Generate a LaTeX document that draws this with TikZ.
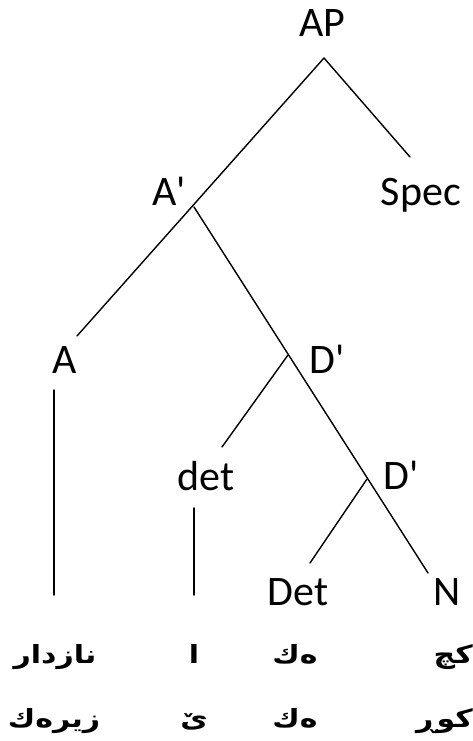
\documentclass[tikz,border=0pt]{standalone}
\usepackage{fontspec}
\setmainfont{Carlito}
\newfontfamily\arabicfont[Script=Arabic, FakeStretch=1.2]{DejaVu Sans}
\TeXXeTstate=1
\usetikzlibrary{positioning}

\begin{document}
\begin{tikzpicture}[x=1pt, y=-1pt,
    every node/.style={inner sep=0pt, anchor=base},
    cat/.style={font=\fontsize{42}{50}\selectfont},
    word/.style={font=\fontsize{25}{30}\selectfont\arabicfont\bfseries},
    branch/.style={line width=1.4pt, line cap=round}
]
\useasboundingbox (0,0) rectangle (473,741);

% Category labels of the tree
\node[cat] (AP)   at (322,37)  {AP};
\node[cat] (Abar) at (169,205) {A\textquotesingle};
\node[cat] (Spec) at (421,205) {Spec};
\node[cat] (A)    at (65,373)  {A};
\node[cat] (Dbar) at (327,373) {D\textquotesingle};
\node[cat] (det)  at (206,490) {det};
\node[cat] (Dbb)  at (401,489) {D\textquotesingle};
\node[cat] (Det)  at (298,605) {Det};
\node[cat] (N)    at (447,605) {N};

% Branch points and ends
\coordinate (AP-foot)   at (324,58);
\coordinate (Spec-top)  at (410,157);
\coordinate (A-top)     at (77,336);
\coordinate (Abar-foot) at (194,207);
\coordinate (N-top)     at (428,573);
\coordinate (Dbar-foot) at (288,355);
\coordinate (det-top)   at (222,447);
\coordinate (Dbb-foot)  at (367,479);
\coordinate (Det-top)   at (310,563);
\coordinate (A-foot)    at (54,390);
\coordinate (A-end)     at (54,595);
\coordinate (det-foot)  at (194,508);
\coordinate (det-end)   at (194,595);

\draw[branch] (AP-foot) -- (A-top);
\draw[branch] (AP-foot) -- (Spec-top);
\draw[branch] (Abar-foot) -- (N-top);
\draw[branch] (Dbar-foot) -- (det-top);
\draw[branch] (Dbb-foot) -- (Det-top);
\draw[branch] (A-foot) -- (A-end);
\draw[branch] (det-foot) -- (det-end);

% Kurdish words under the leaves
\node[word] (w-A1)   at (55,663)  {\beginR نازدار\endR};
\node[word] (w-det1) at (194,663) {\beginR ا\endR};
\node[word] (w-Det1) at (295,663) {\beginR ەك\endR};
\node[word, anchor=base east] (w-N1) at (473,663) {\beginR كچ\endR};
\node[word] (w-A2)   at (54,727)  {\beginR زيرەك\endR};
\node[word] (w-det2) at (194,727) {\beginR ێ\endR};
\node[word] (w-Det2) at (295,727) {\beginR ەك\endR};
\node[word, anchor=base east] (w-N2) at (473,727) {\beginR كوڕ\endR};
\end{tikzpicture}
\end{document}
